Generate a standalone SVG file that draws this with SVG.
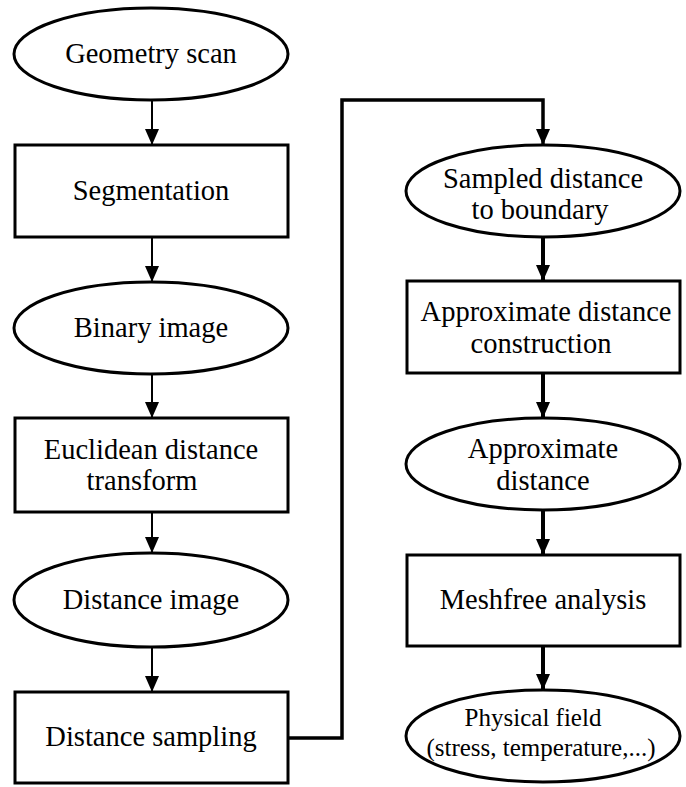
<svg xmlns="http://www.w3.org/2000/svg" width="686" height="787" viewBox="0 0 686 787">
<style>
.node{fill:#fff;stroke:#000;stroke-width:3}
.thin{fill:none;stroke:#000;stroke-width:2}
.thick{fill:none;stroke:#000;stroke-width:4}
</style>
<defs>
<marker id="ah" viewBox="0 0 16 14" refX="16" refY="7" markerWidth="16" markerHeight="14" markerUnits="userSpaceOnUse" orient="auto">
<path d="M0,0 L16,7 L0,14 Z" fill="#000"/>
</marker>
</defs>
<g id="connectors">
<line class="thin" x1="152" y1="100" x2="152" y2="145" marker-end="url(#ah)"/>
<line class="thin" x1="152" y1="237" x2="152" y2="282" marker-end="url(#ah)"/>
<line class="thin" x1="152" y1="375" x2="152" y2="418" marker-end="url(#ah)"/>
<line class="thin" x1="152" y1="512" x2="152" y2="553" marker-end="url(#ah)"/>
<line class="thin" x1="152" y1="648" x2="152" y2="692" marker-end="url(#ah)"/>
<polyline fill="none" stroke="#000" stroke-width="3.5" points="288,738 342,738 342,100 543,100 543,145" marker-end="url(#ah)"/>
<line class="thick" x1="543" y1="238" x2="543" y2="281" marker-end="url(#ah)"/>
<line class="thick" x1="543" y1="373" x2="543" y2="418" marker-end="url(#ah)"/>
<line class="thick" x1="543" y1="510" x2="543" y2="555" marker-end="url(#ah)"/>
<line class="thick" x1="543" y1="646" x2="543" y2="690" marker-end="url(#ah)"/>
</g>
<g font-family="Liberation Serif, Times New Roman, serif" font-size="28.5" fill="#000" text-anchor="middle">
<g id="geometry-scan"><ellipse class="node" cx="151" cy="54" rx="137" ry="46"/><text x="151" y="63">Geometry scan</text></g>
<g id="segmentation"><rect class="node" x="15" y="145" width="273" height="92"/><text x="151" y="200">Segmentation</text></g>
<g id="binary-image"><ellipse class="node" cx="151" cy="328" rx="137" ry="46"/><text x="151" y="337">Binary image</text></g>
<g id="edt"><rect class="node" x="15" y="418" width="273" height="94"/><text x="151" y="459">Euclidean distance</text><text x="142" y="490">transform</text></g>
<g id="distance-image"><ellipse class="node" cx="151" cy="600" rx="137" ry="47"/><text x="151" y="609">Distance image</text></g>
<g id="distance-sampling"><rect class="node" x="15" y="692" width="273" height="91"/><text x="151" y="746">Distance sampling</text></g>
<g id="sampled-distance"><ellipse class="node" cx="543" cy="191" rx="137" ry="46"/><text x="543" y="188">Sampled distance</text><text x="540" y="219">to boundary</text></g>
<g id="adc"><rect class="node" x="407" y="281" width="273" height="92"/><text x="546" y="321">Approximate distance</text><text x="541" y="353">construction</text></g>
<g id="approx-distance"><ellipse class="node" cx="543" cy="464" rx="137" ry="46"/><text x="543" y="458">Approximate</text><text x="543" y="490">distance</text></g>
<g id="meshfree"><rect class="node" x="407" y="555" width="273" height="91"/><text x="543" y="609">Meshfree analysis</text></g>
<g id="physical-field"><ellipse class="node" cx="543" cy="736" rx="137" ry="46"/><text font-size="25" x="533" y="726">Physical field</text><text font-size="25" x="541" y="756">(stress, temperature,...)</text></g>
</g>
</svg>
